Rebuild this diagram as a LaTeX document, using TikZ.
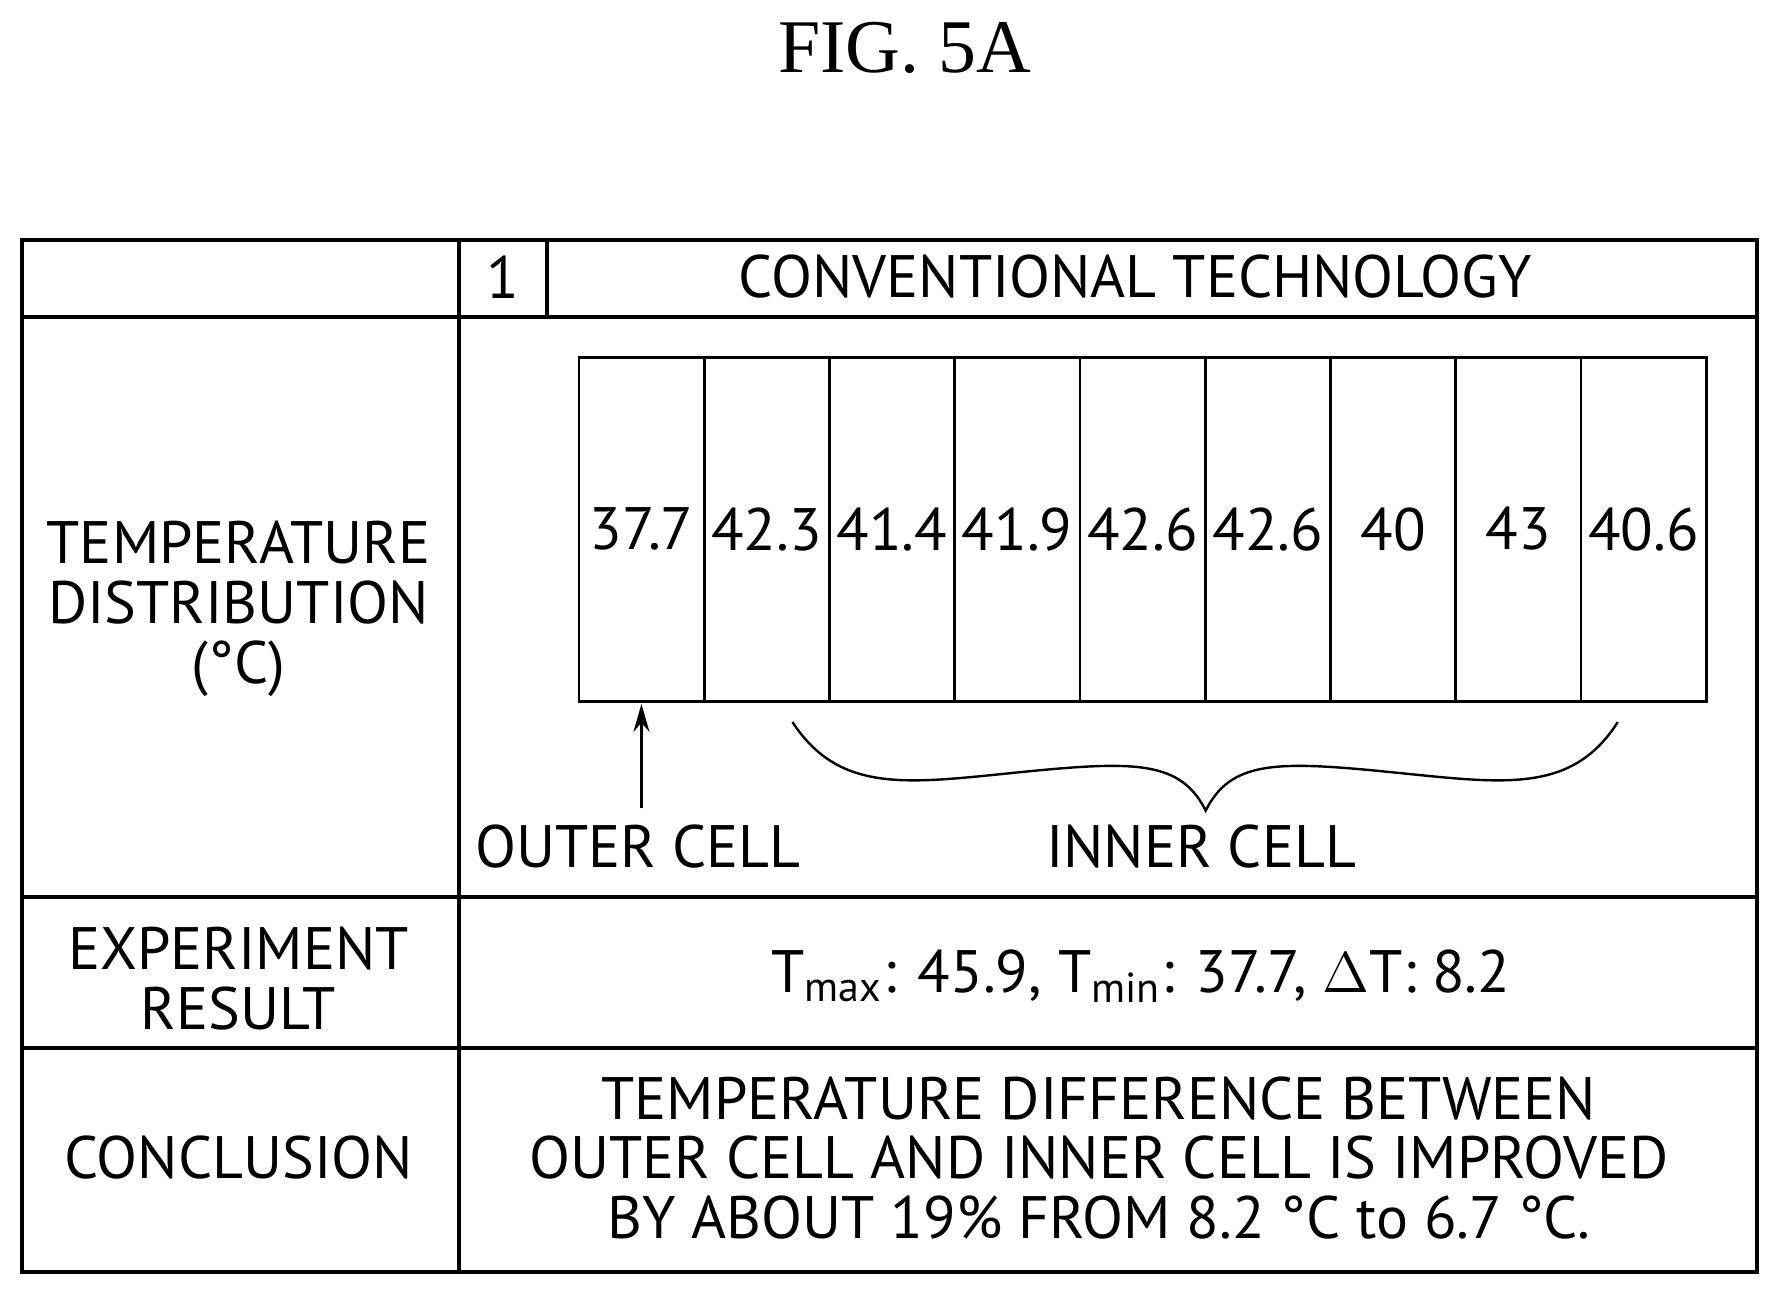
\documentclass[tikz,border=0pt]{standalone}
\usepackage{fontspec}
\setmainfont{Liberation Serif}
\newfontfamily\tabfont{PT Sans}
\usetikzlibrary{arrows.meta}
\tikzset{
  frame/.style={line width=1pt},
  cellbox/.style={line width=0.7pt},
  lbl/.style={font=\tabfont\fontsize{15}{15}\selectfont, align=center, inner sep=0pt},
  arrow/.style={line width=0.6pt,-{Stealth[length=7pt,width=4pt]}}
}
\begin{document}
\begin{tikzpicture}[x=0.01cm,y=-0.01cm]
\useasboundingbox (0,0) rectangle (1567,1139);
\node (title) at (797,42) {\fontsize{19}{19}\selectfont FIG. 5A};
%Tabla==============================================
\draw[frame] (19,211) rectangle (1548,1120);
\draw[frame] (404,211) -- (404,1120);
\draw[frame] (482,211) -- (482,279);
\foreach \yy in {279,790,923} \draw[frame] (19,\yy) -- (1548,\yy);
\node[lbl] (one) at (443,244) {1};
\node[lbl] (head) at (1000,244) {CONVENTIONAL TECHNOLOGY};
\node[lbl] (tdist) at (210,536) {TEMPERATURE\\DISTRIBUTION\\(\textdegree C)};
\node[lbl] (expres) at (210,862) {EXPERIMENT\\RESULT};
\node[lbl] (concl) at (210,1020) {CONCLUSION};
\node[lbl] (tres) at (1005,860) {T\textsubscript{max}: 45.9, T\textsubscript{min}: 37.7, \(\Delta\)T: 8.2};
\node[lbl] (conctext) at (968,1020) {TEMPERATURE DIFFERENCE BETWEEN\\OUTER CELL AND INNER CELL IS IMPROVED\\BY ABOUT 19\% FROM 8.2 \textdegree C to 6.7 \textdegree C.};
%Celdas==============================================
\foreach \val [count=\i from 0] in {37.7,42.3,41.4,41.9,42.6,42.6,40,43,40.6}{
  \draw[cellbox] ({510+110.33*\i},315) rectangle ({510+110.33*(\i+1)},618);
  \node[lbl] (c\i) at ({565+110.33*\i},466) {\val};
}
\node[lbl] (outer) at (562,746) {OUTER CELL};
\node[lbl] (inner) at (1058,746) {INNER CELL};
\coordinate (tip) at (565,620);
\draw[arrow] (565,712) -- (tip);
\draw[line width=0.6pt] (698,636) .. controls (740,700) and (800,690) .. (900,680)
  .. controls (1000,670) and (1040,670) .. (1062,714)
  .. controls (1084,670) and (1124,670) .. (1224,680)
  .. controls (1324,690) and (1384,700) .. (1425,636);
\end{tikzpicture}
\end{document}
